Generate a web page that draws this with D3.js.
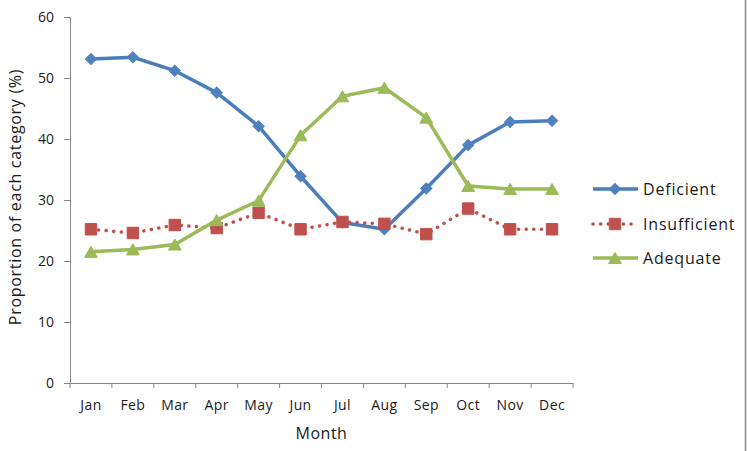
<!doctype html>
<html>
<meta content="text/html;charset=utf-8" http-equiv="Content-Type">
<style>
    body {
        margin: 0;
        background: #fff;
    }

    text {
        font-family: "Open Sans", sans-serif;
        fill: #1a1a1a;
    }
</style>
<head>
    <title>Proportion by month</title>
    <script src="https://d3js.org/d3.v7.min.js" charset="utf-8"></script>
</head>
<body>
    <svg id="chart" width="747" height="451"></svg>
    <script>
        // values
        var months = ["Jan", "Feb", "Mar", "Apr", "May", "Jun", "Jul", "Aug", "Sep", "Oct", "Nov", "Dec"];
        var deficient = [53.1, 53.4, 51.2, 47.6, 42.1, 33.9, 26.3, 25.2, 31.9, 39.0, 42.8, 43.0];
        var insufficient = [25.2, 24.6, 25.9, 25.4, 27.9, 25.2, 26.4, 26.1, 24.4, 28.6, 25.2, 25.2];
        var adequate = [21.5, 21.9, 22.7, 26.7, 29.9, 40.6, 47.0, 48.4, 43.5, 32.3, 31.8, 31.8];
        var yTicks = [0, 10, 20, 30, 40, 50, 60];

        var series = [
            { name: "Deficient", values: deficient, color: "#4a7ebb", marker: "#4f81bd", shape: "diamond", dotted: false },
            { name: "Insufficient", values: insufficient, color: "#c0504d", marker: "#c0504d", shape: "square", dotted: true },
            { name: "Adequate", values: adequate, color: "#9bbb59", marker: "#9bbb59", shape: "triangle", dotted: false }
        ];

        var svg = d3.select("#chart");
        // "top" is taken by window.top, so the plot box gets its own names
        var plotLeft = 70, plotRight = 573, plotTop = 17, plotBottom = 383;

        var xBand = d3.scaleBand().domain(months).range([plotLeft, plotRight]);
        var x = function (m) { return xBand(m) + xBand.bandwidth() / 2; };
        var y = d3.scaleLinear().domain([0, 60]).range([plotBottom, plotTop]);

        // outer frame edge on the right
        svg.append("line")
            .attr("x1", 745.5).attr("x2", 745.5).attr("y1", 0).attr("y2", 451)
            .style("stroke", "#8a8a8a").style("stroke-width", "1.5px");

        // y axis
        var yAxis = svg.append("g")
            .attr("transform", "translate(" + plotLeft + ",0)")
            .call(d3.axisLeft(y).tickValues(yTicks).tickSize(6).tickPadding(10));
        yAxis.selectAll("path, line").style("stroke", "#868686");
        yAxis.selectAll("text").style("font-size", "14px").style("font-family", "Open Sans").style("fill", "#1a1a1a");

        // x axis: labels from the band scale, ticks on category boundaries
        var xAxis = svg.append("g")
            .attr("transform", "translate(0," + plotBottom + ")")
            .call(d3.axisBottom(xBand).tickSize(0).tickPadding(17));
        xAxis.select(".domain").style("stroke", "#868686");
        xAxis.selectAll("text").style("font-size", "14px").style("font-family", "Open Sans").style("fill", "#1a1a1a")
            .style("letter-spacing", "0.4px");
        var edges = months.map(function (m) { return xBand(m); }).concat([xBand.range()[1]]);
        xAxis.selectAll(".edge").data(edges).enter().append("line")
            .attr("class", "edge")
            .attr("x1", function (d) { return d; }).attr("x2", function (d) { return d; })
            .attr("y1", 0).attr("y2", 5)
            .style("stroke", "#868686");

        // axis titles
        svg.append("text")
            .attr("x", (plotLeft + plotRight) / 2).attr("y", 439)
            .attr("text-anchor", "middle")
            .style("font-size", "16px").style("letter-spacing", "0.5px")
            .text("Month");
        svg.append("text")
            .attr("transform", "translate(21," + ((plotTop + plotBottom) / 2 - 3) + ") rotate(-90)")
            .attr("text-anchor", "middle")
            .style("font-size", "16px").style("letter-spacing", "0.7px")
            .text("Proportion  of each category (%)");

        function markerPath(shape) {
            if (shape === "diamond") return d3.symbol().type(d3.symbolSquare).size(62)();
            if (shape === "square") return d3.symbol().type(d3.symbolSquare).size(130)();
            return d3.symbol().type(d3.symbolTriangle).size(72)();
        }
        function markerTransform(shape, px, py) {
            if (shape === "diamond") return "translate(" + px + "," + py + ") rotate(45)";
            if (shape === "triangle") return "translate(" + px + "," + (py + 1.8) + ")";
            return "translate(" + px + "," + py + ")";
        }

        var line = d3.line()
            .x(function (d, i) { return x(months[i]); })
            .y(function (d) { return y(d); });

        series.forEach(function (s) {
            var path = svg.append("path")
                .attr("d", line(s.values))
                .style("fill", "none")
                .style("stroke", s.color)
                .style("stroke-width", "3.5px")
                .style("stroke-linejoin", "round");
            if (s.dotted) path.style("stroke-dasharray", "0.1 7.5").style("stroke-linecap", "round");

            svg.selectAll(null).data(s.values).enter().append("path")
                .attr("d", markerPath(s.shape))
                .attr("transform", function (d, i) { return markerTransform(s.shape, x(months[i]), y(d)); })
                .style("fill", s.marker)
                .style("stroke", s.marker)
                .style("stroke-width", "1px");
        });

        // legend
        var legendY = [189, 224, 258];
        var legend = svg.selectAll(".legend").data(series).enter().append("g")
            .attr("class", "legend")
            .attr("transform", function (d, i) { return "translate(0," + legendY[i] + ")"; });
        legend.append("line")
            .attr("x1", 593).attr("x2", 638).attr("y1", 0).attr("y2", 0)
            .style("stroke", function (d) { return d.color; })
            .style("stroke-width", "3.5px")
            .style("stroke-dasharray", function (d) { return d.dotted ? "0.1 7.5" : null; })
            .style("stroke-linecap", function (d) { return d.dotted ? "round" : null; });
        legend.append("path")
            .attr("d", function (d) { return markerPath(d.shape); })
            .attr("transform", function (d) { return markerTransform(d.shape, 615, 0); })
            .style("fill", function (d) { return d.marker; })
            .style("stroke", function (d) { return d.marker; });
        legend.append("text")
            .attr("x", 643).attr("y", 5.5)
            .style("font-size", "16px").style("letter-spacing", "0.8px")
            .text(function (d) { return d.name; });
    </script>
</body>
</html>
